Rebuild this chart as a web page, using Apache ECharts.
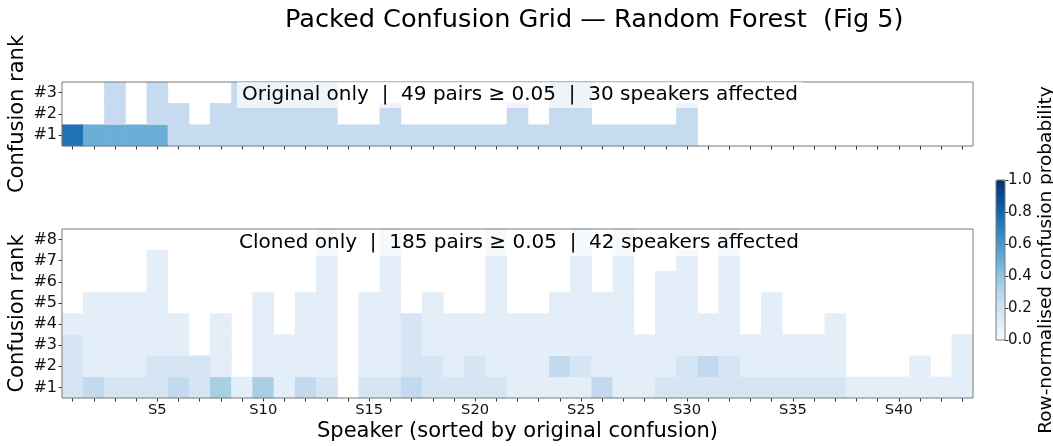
<!DOCTYPE html>
<html>
<head>
<meta charset="utf-8">
<title>Packed Confusion Grid</title>
<script src="https://cdn.jsdelivr.net/npm/echarts@6.0.0/dist/echarts.min.js"></script>
<style>
  html, body { margin: 0; padding: 0; background: #fff; }
  #main { width: 1053px; height: 446px; }
</style>
</head>
<body>
<div id="main"></div>
<script>
var _ = null;   // empty cell (pair below 0.05)

var speakers = ['S1','S2','S3','S4','S5','S6','S7','S8','S9','S10',
                'S11','S12','S13','S14','S15','S16','S17','S18','S19','S20',
                'S21','S22','S23','S24','S25','S26','S27','S28','S29','S30',
                'S31','S32','S33','S34','S35','S36','S37','S38','S39','S40',
                'S41','S42','S43'];
var origRanks = ['#1', '#2', '#3'];
var clonedRanks = ['#1', '#2', '#3', '#4', '#5', '#6', '#7', '#8'];
var cbarTicks = [0, 0.2, 0.4, 0.6, 0.8, 1.0];

// original only: one row per rank, one value per speaker
var origRank1 = [.75,.50,.50,.50,.50,.25,.25,.25,.25,.25,
                 .25,.25,.25,.25,.25,.25,.25,.25,.25,.25,
                 .25,.25,.25,.25,.25,.25,.25,.25,.25,.25,
                 _,_,_,_,_,_,_,_,_,_,
                 _,_,_];
var origRank2 = [_,_,.25,_,.25,.25,_,.25,.25,.25,
                 .25,.25,.25,_,_,.25,_,_,_,_,
                 _,.25,_,.25,.25,_,_,_,_,.25,
                 _,_,_,_,_,_,_,_,_,_,
                 _,_,_];
var origRank3 = [_,_,.25,_,.25,_,_,_,.25,.25,
                 .25,.25,.25,_,_,_,_,_,_,_,
                 _,_,_,.25,.25,_,_,_,_,_,
                 _,_,_,_,_,_,_,_,_,_,
                 _,_,_];

// cloned only
var clonedRank1 = [.17,.26,.17,.17,.17,.26,.17,.34,.10,.34,
                   .10,.26,.17,_,.17,.17,.26,.17,.17,.17,
                   .17,.10,.10,.10,.10,.26,.10,.10,.17,.17,
                   .17,.17,.17,.17,.17,.17,.17,.10,.10,.10,
                   .10,.10,.10];
var clonedRank2 = [.17,.10,.10,.10,.17,.17,.17,.10,_,.10,
                   .10,.10,.10,_,.10,.10,.17,.17,.10,.17,
                   .10,.10,.10,.26,.17,.10,.10,.10,.10,.17,
                   .26,.17,.10,.10,.10,.10,.10,_,_,_,
                   .10,_,.10];
var clonedRank3 = [.17,.10,.10,.10,.10,.10,_,.10,_,.10,
                   .10,.10,.10,_,.10,.10,.17,.10,.10,.10,
                   .10,.10,.10,.10,.10,.10,.10,.10,.10,.10,
                   .10,.10,.10,.10,.10,.10,.10,_,_,_,
                   _,_,.10];
var clonedRank4 = [.10,.10,.10,.10,.10,.10,_,.10,_,.10,
                   _,.10,.10,_,.10,.10,.17,.10,.10,.10,
                   .10,.10,.10,.10,.10,.10,.10,_,.10,.10,
                   .10,.10,_,.10,_,_,.10,_,_,_,
                   _,_,_];
var clonedRank5 = [_,.10,.10,.10,.10,_,_,_,_,.10,
                   _,.10,.10,_,.10,.10,_,.10,_,_,
                   .10,_,_,.10,.10,.10,.10,_,.10,.10,
                   _,.10,_,.10,_,_,_,_,_,_,
                   _,_,_];
var clonedRank6 = [_,_,_,_,.10,_,_,_,_,_,
                   _,_,.10,_,_,.10,_,_,_,_,
                   .10,_,_,_,.10,_,.10,_,.10,.10,
                   _,.10,_,_,_,_,_,_,_,_,
                   _,_,_];
var clonedRank7 = [_,_,_,_,.10,_,_,_,_,_,
                   _,_,.10,_,_,.10,_,_,_,_,
                   .10,_,_,_,.10,_,.10,_,_,.10,
                   _,.10,_,_,_,_,_,_,_,_,
                   _,_,_];
var clonedRank8 = [_,_,_,_,_,_,_,_,_,_,
                   _,_,.10,_,_,.10,_,_,_,_,
                   .10,_,_,_,.10,_,.10,_,_,_,
                   _,.10,_,_,_,_,_,_,_,_,
                   _,_,_];

var blues = ['#f7fbff','#deebf7','#c6dbef','#9ecae1','#6baed6',
             '#4292c6','#2171b5','#08519c','#08306b'];

// [speaker, rank, value] triples, skipping empty cells
function toCells(rows) {
    var out = [];
    rows.forEach(function (row, r) {
        row.forEach(function (v, s) {
            if (v !== null) out.push([s, r, v]);
        });
    });
    return out;
}

var FONT = 'DejaVu Sans';
var AX = '#7a7a7a';

function speakerAxis(gridIndex, showLabels) {
    return {
        type: 'category', gridIndex: gridIndex, data: speakers,
        axisLine: { show: false },
        axisTick: { show: true, alignWithLabel: true, interval: 0, length: 3.5,
                    lineStyle: { color: '#333' } },
        axisLabel: {
            show: showLabels, color: '#111', fontSize: 14.7, margin: 5,
            interval: function (i) { return (i + 1) % 5 === 0; }
        },
        splitLine: { show: false },
        name: showLabels ? 'Speaker (sorted by original confusion)' : '',
        nameLocation: 'middle', nameGap: 23, nameMoveOverlap: false,
        nameTextStyle: { fontSize: 21, color: '#000' }
    };
}

function rankAxis(gridIndex, ranks) {
    return {
        type: 'category', gridIndex: gridIndex, data: ranks,
        axisLine: { show: false },
        axisTick: { show: true, alignWithLabel: true, length: 3.5, lineStyle: { color: '#333' } },
        axisLabel: { color: '#111', fontSize: 16, margin: 5 },
        splitLine: { show: false },
        name: 'Confusion rank', nameLocation: 'middle', nameRotate: 90,
        nameGap: 34, nameMoveOverlap: false,
        nameTextStyle: { fontSize: 21, color: '#000' }
    };
}

var myChart = echarts.init(document.getElementById('main'));
var option = {
    animation: false,
    textStyle: { fontFamily: FONT },
    title: [
        {
            text: 'Packed Confusion Grid \u2014 Random Forest  (Fig 5)',
            left: 285, top: 7, padding: 0,
            textStyle: { fontSize: 25.6, fontWeight: 'normal', color: '#000', lineHeight: 26 }
        },
        {
            text: 'Original only  |  49 pairs \u2265 0.05  |  30 speakers affected',
            left: 237, top: 82, padding: [2, 5, 2, 5],
            backgroundColor: 'rgba(255,255,255,0.7)',
            textStyle: { fontSize: 20, fontWeight: 'normal', color: '#000', lineHeight: 22 }
        },
        {
            text: 'Cloned only  |  185 pairs \u2265 0.05  |  42 speakers affected',
            left: 234, top: 230, padding: [2, 5, 2, 5],
            backgroundColor: 'rgba(255,255,255,0.7)',
            textStyle: { fontSize: 20, fontWeight: 'normal', color: '#000', lineHeight: 22 }
        }
    ],
    grid: [
        { left: 62, top: 82, width: 911, height: 64, outerBoundsMode: 'none',
          show: true, borderColor: AX, borderWidth: 1, z: 3 },
        { left: 62, top: 229, width: 911, height: 169, outerBoundsMode: 'none',
          show: true, borderColor: AX, borderWidth: 1, z: 3 },
        // colour bar axis
        { left: 996, top: 180, width: 9, height: 160, outerBoundsMode: 'none',
          show: true, borderColor: AX, borderWidth: 1, z: 5 }
    ],
    xAxis: [
        speakerAxis(0, false),
        speakerAxis(1, true),
        { type: 'category', gridIndex: 2, data: [''], show: false }
    ],
    yAxis: [
        rankAxis(0, origRanks),
        rankAxis(1, clonedRanks),
        {
            type: 'value', gridIndex: 2, position: 'right',
            min: cbarTicks[0], max: cbarTicks[cbarTicks.length - 1], interval: 0.2,
            axisLine: { show: false },
            axisTick: { show: true, length: 3.5, lineStyle: { color: '#333' } },
            axisLabel: { color: '#111', fontSize: 15, margin: 3,
                         formatter: function (v) { return v.toFixed(1); } },
            splitLine: { show: false },
            name: 'Row-normalised confusion probability',
            nameLocation: 'middle', nameRotate: 90, nameGap: 32, nameMoveOverlap: false,
            nameTextStyle: { fontSize: 18.5, color: '#000' }
        }
    ],
    visualMap: {
        type: 'continuous', min: 0, max: 1, seriesIndex: [0, 1],
        orient: 'vertical', left: 996, top: 180, padding: 0,
        itemWidth: 9, itemHeight: 160, calculable: false, text: null,
        inRange: { color: blues }
    },
    series: [
        {
            name: 'original', type: 'heatmap', xAxisIndex: 0, yAxisIndex: 0,
            data: toCells([origRank1, origRank2, origRank3]),
            emphasis: { disabled: true }
        },
        {
            name: 'cloned', type: 'heatmap', xAxisIndex: 1, yAxisIndex: 1,
            data: toCells([clonedRank1, clonedRank2, clonedRank3, clonedRank4,
                           clonedRank5, clonedRank6, clonedRank7, clonedRank8]),
            emphasis: { disabled: true }
        }
    ]
};
myChart.setOption(option);
</script>
</body>
</html>
